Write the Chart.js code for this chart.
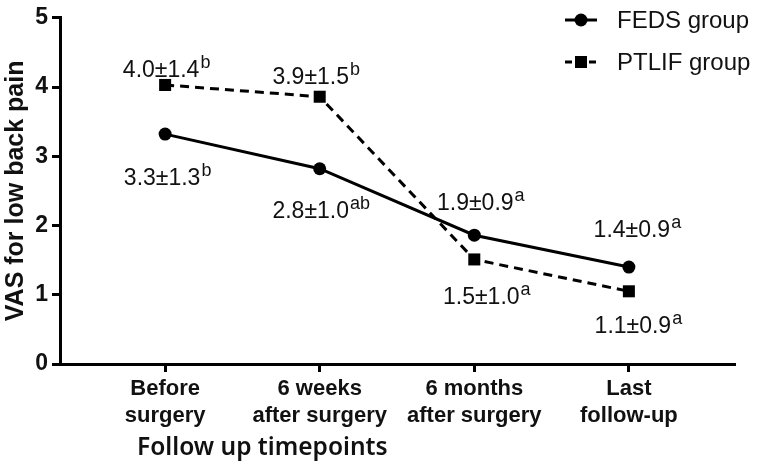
<!DOCTYPE html>
<html>
<head>
<meta charset="utf-8">
<script src="https://cdn.jsdelivr.net/npm/chart.js@4.4.1/dist/chart.umd.min.js"></script>
<style>
  html, body { margin: 0; padding: 0; background: #fff; }
  #wrap { width: 759px; height: 464px; position: relative; }
</style>
</head>
<body>
<div id="wrap"><canvas id="vasChart"></canvas></div>
<script>
// Data
const timepoints = [['Before', 'surgery'], ['6 weeks', 'after surgery'], ['6 months', 'after surgery'], ['Last', 'follow-up']];
const fedsValues = [3.32, 2.82, 1.86, 1.40];
const ptlifValues = [4.03, 3.86, 1.51, 1.05];
const fedsLabels = [['3.3±1.3', 'b'], ['2.8±1.0', 'ab'], ['1.9±0.9', 'a'], ['1.4±0.9', 'a']];
const ptlifLabels = [['4.0±1.4', 'b'], ['3.9±1.5', 'b'], ['1.5±1.0', 'a'], ['1.1±0.9', 'a']];
const yTicks = [0, 1, 2, 3, 4, 5];

const FONT = "'Liberation Sans', Arial, sans-serif";

// label offsets from each point (dx, dy to baseline)
const labelOffsets = [
    [[-3, 51], [-9, 49], [1, -25], [3, -30]],
    [[-4, -8], [-9, -13], [7, 45], [4, 42]]
];

const valueLabelPlugin = {
    id: 'valueLabels',
    afterDatasetsDraw(chart) {
        const ctx = chart.ctx;
        const allLabels = [fedsLabels, ptlifLabels];
        ctx.save();
        ctx.fillStyle = '#111';
        ctx.textBaseline = 'alphabetic';
        chart.data.datasets.forEach((ds, di) => {
            const meta = chart.getDatasetMeta(di);
            meta.data.forEach((pt, i) => {
                const [main, sup] = allLabels[di][i];
                const [dx, dy] = labelOffsets[di][i];
                ctx.font = '23px ' + FONT;
                const w = ctx.measureText(main).width;
                const x0 = pt.x + dx - w / 2;
                const y0 = pt.y + dy;
                ctx.textAlign = 'left';
                ctx.fillText(main, x0, y0);
                ctx.font = '18px ' + FONT;
                ctx.fillText(sup, x0 + w + 1, y0 - 9);
            });
        });
        ctx.restore();
    }
};

const legendPlugin = {
    id: 'cornerLegend',
    afterDraw(chart) {
        const ctx = chart.ctx;
        const x1 = 565, x2 = 597, tx = 617;
        const rows = [{ y: 20, text: 'FEDS group', dash: [], shape: 'circle' },
                      { y: 62, text: 'PTLIF group', dash: [7, 5], shape: 'rect' }];
        ctx.save();
        rows.forEach(r => {
            ctx.strokeStyle = '#000';
            ctx.fillStyle = '#000';
            ctx.lineWidth = 3;
            ctx.setLineDash(r.dash);
            ctx.beginPath();
            ctx.moveTo(x1, r.y);
            ctx.lineTo(x2, r.y);
            ctx.stroke();
            ctx.setLineDash([]);
            const cx = (x1 + x2) / 2;
            if (r.shape === 'circle') {
                ctx.beginPath();
                ctx.arc(cx, r.y, 6.5, 0, Math.PI * 2);
                ctx.fill();
            } else {
                ctx.fillRect(cx - 6, r.y - 6, 12, 12);
            }
            ctx.font = '24px ' + FONT;
            ctx.textBaseline = 'middle';
            ctx.textAlign = 'left';
            ctx.fillStyle = '#111';
            ctx.fillText(r.text, tx, r.y + 1);
        });
        ctx.restore();
    }
};

const xTitlePlugin = {
    id: 'xTitle',
    afterDraw(chart) {
        const ctx = chart.ctx;
        ctx.save();
        ctx.font = "600 24.5px 'Noto Sans', 'Open Sans', sans-serif";
        ctx.fillStyle = '#111';
        ctx.textAlign = 'left';
        ctx.textBaseline = 'alphabetic';
        ctx.fillText('Follow up timepoints', 137, 455);
        ctx.restore();
    }
};

const ctx = document.getElementById('vasChart').getContext('2d');
new Chart(ctx, {
    type: 'line',
    data: {
        datasets: [{
            label: 'FEDS group',
            data: fedsValues.map((v, i) => ({ x: i, y: v })),
            borderColor: '#000',
            backgroundColor: '#000',
            borderWidth: 3,
            pointStyle: 'circle',
            pointRadius: 6.5,
            pointBorderWidth: 0,
            tension: 0,
            fill: false,
            clip: false
        }, {
            label: 'PTLIF group',
            data: ptlifValues.map((v, i) => ({ x: i, y: v })),
            borderColor: '#000',
            backgroundColor: '#000',
            borderWidth: 3,
            borderDash: [9, 6],
            pointStyle: 'rect',
            pointRadius: 8.5,
            pointBorderWidth: 0,
            tension: 0,
            fill: false,
            clip: false
        }]
    },
    options: {
        responsive: true,
        maintainAspectRatio: false,
        animation: false,
        layout: {
            padding: { top: 10, right: 25, left: 0, bottom: 0 }
        },
        plugins: {
            legend: { display: false },
            tooltip: { enabled: false }
        },
        scales: {
            x: {
                type: 'linear',
                min: -0.68,
                max: 3.68,
                afterBuildTicks: scale => {
                    scale.ticks = timepoints.map((t, i) => ({ value: i }));
                },
                afterFit: scale => { scale.height = 100; },
                border: { display: true, color: '#000', width: 3 },
                grid: { display: true, drawOnChartArea: false, drawTicks: true, tickLength: 8, color: '#000', lineWidth: 3 },
                ticks: {
                    color: '#111',
                    padding: 3,
                    maxRotation: 0,
                    autoSkip: false,
                    font: { family: FONT, size: 22, weight: 'bold', lineHeight: 1.24 },
                    callback: function(value) {
                        return timepoints[value];
                    }
                }
            },
            y: {
                min: 0,
                max: 5,
                afterBuildTicks: scale => {
                    scale.ticks = yTicks.map(v => ({ value: v }));
                },
                afterFit: scale => { scale.width = 60; },
                border: { display: true, color: '#000', width: 3 },
                grid: { display: true, drawOnChartArea: false, drawTicks: true, tickLength: 8, color: '#000', lineWidth: 3 },
                title: {
                    display: true,
                    text: 'VAS for low back pain',
                    color: '#111',
                    padding: { top: 1, bottom: 0 },
                    font: { family: FONT, size: 25, weight: 'bold' }
                },
                ticks: {
                    color: '#111',
                    padding: 4,
                    font: { family: FONT, size: 23, weight: 'bold' }
                }
            }
        }
    },
    plugins: [valueLabelPlugin, legendPlugin, xTitlePlugin]
});
</script>
</body>
</html>
